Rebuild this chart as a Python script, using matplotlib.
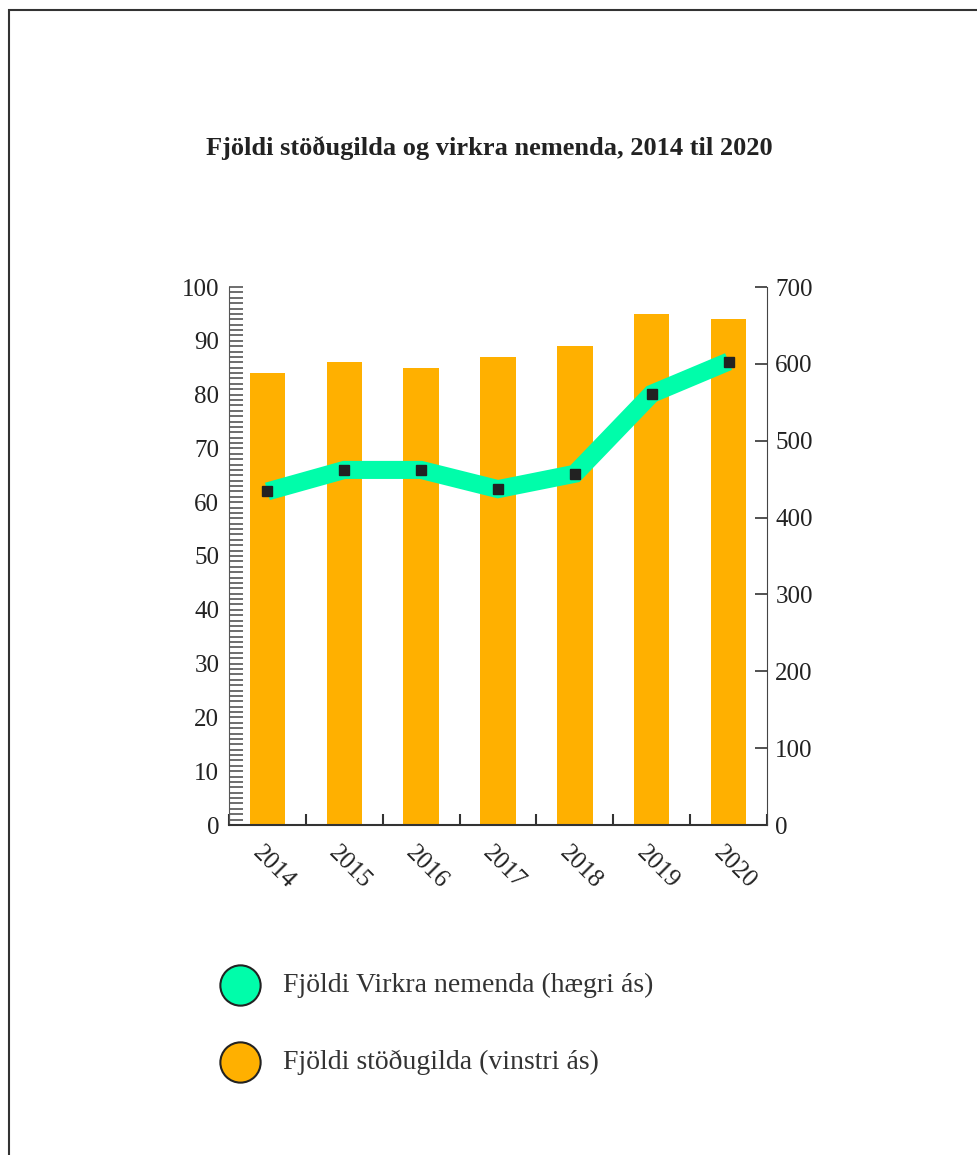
import matplotlib
matplotlib.use("Agg")
import matplotlib.pyplot as plt
from matplotlib.lines import Line2D
from matplotlib.patches import Rectangle
from matplotlib.ticker import MultipleLocator, FixedLocator
from matplotlib.transforms import ScaledTranslation
import numpy as np

years = ["2014", "2015", "2016", "2017", "2018", "2019", "2020"]
stodugildi = [84, 86, 85, 87, 89, 95, 94]          # left axis
virkir_nemendur = [434, 462, 462, 437, 457, 561, 603]  # right axis

title = "Fjöldi stöðugilda og virkra nemenda, 2014 til 2020"
legend_labels = ["Fjöldi Virkra nemenda (hægri ás)", "Fjöldi stöðugilda (vinstri ás)"]

BAR_C = "#FFB000"
LINE_C = "#00FDAA"
DARK = "#222222"
SERIF = ["Liberation Serif", "DejaVu Serif"]
plt.rcParams["font.family"] = SERIF

W, H = 978, 1155
fig = plt.figure(figsize=(W / 100, H / 100), dpi=100)

L, R, B, T = 229, 767, 825, 287
ax = fig.add_axes([L / W, 1 - B / H, (R - L) / W, (B - T) / H])
x = np.arange(len(years))
ax.bar(x, stodugildi, width=0.46, color=BAR_C, zorder=1)
ax.set_xlim(-0.5, len(years) - 0.5)
ax.set_ylim(0, 100)

ax.spines["top"].set_visible(False)
ax.spines["left"].set_color("#555555")
ax.spines["bottom"].set_color("#333333")
ax.spines["bottom"].set_linewidth(1.5)
ax.spines["right"].set_visible(False)

ax.yaxis.set_major_locator(MultipleLocator(10))
ax.yaxis.set_minor_locator(MultipleLocator(1))
ax.tick_params(axis="y", which="both", direction="in", length=10, width=1.4,
               color="#6e6e6e", labelsize=18, labelcolor=DARK, pad=7)

ax.set_xticks(x)
ax.set_xticklabels(years)
ax.xaxis.set_minor_locator(FixedLocator(np.arange(-0.5, len(years), 1.0)))
ax.tick_params(axis="x", which="major", length=0, pad=12, labelsize=18, labelcolor=DARK)
ax.tick_params(axis="x", which="minor", direction="in", length=8, width=1.5, color="#333333")
offset = ScaledTranslation(6 / 100, 0, fig.dpi_scale_trans)
for lab in ax.get_xticklabels():
    lab.set_rotation(-45)
    lab.set_ha("center")
    lab.set_va("top")
    lab.set_transform(lab.get_transform() + offset)

ax2 = ax.twinx()
ax2.set_ylim(0, 700)
ax2.yaxis.set_major_locator(MultipleLocator(100))
for s in ["top", "left", "bottom"]:
    ax2.spines[s].set_visible(False)
ax2.spines["right"].set_color("#444444")
ax2.tick_params(axis="y", direction="in", length=9, width=1.2, color="#333333",
                labelsize=18, labelcolor=DARK, pad=6)
ax2.plot(x, virkir_nemendur, color=LINE_C, lw=13, solid_joinstyle="miter",
         solid_capstyle="butt", zorder=2)
ax2.plot(x, virkir_nemendur, ls="none", marker="s", ms=6.5, color=DARK, zorder=3)

fig.text(489 / W, 1 - 148 / H, title, ha="center", va="center",
         fontsize=19, fontweight="bold", color=DARK)

leg_y = [985, 1062]
for col, lab, yy in zip([LINE_C, BAR_C], legend_labels, leg_y):
    fig.add_artist(Line2D([240 / W], [1 - yy / H], marker="o", ms=29, mfc=col,
                          mec=DARK, mew=1.5, ls="none", transform=fig.transFigure))
    fig.text(283 / W, 1 - yy / H, lab, ha="left", va="center", fontsize=20, color="#333333")

fig.add_artist(Rectangle((9 / W, -0.05), 1.1, 1.05 - 10 / H, transform=fig.transFigure,
                         fill=False, ec="#333333", lw=1.5))

fig.savefig("out.png", dpi=100)
